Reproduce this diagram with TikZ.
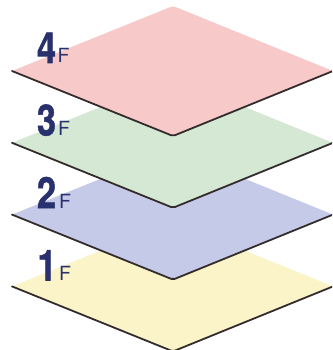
\documentclass[tikz,border=0pt]{standalone}
\usepackage{fontspec}
\setmainfont{TeX Gyre Heros}
\newfontfamily\digfont[FakeBold=1.2]{TeX Gyre Heros}
\definecolor{pinkP}{RGB}{247,201,201}
\definecolor{greenP}{RGB}{212,232,211}
\definecolor{blueP}{RGB}{196,202,232}
\definecolor{yellowP}{RGB}{250,244,200}
\definecolor{edgeC}{RGB}{52,44,44}
\definecolor{navyC}{RGB}{40,48,110}
\tikzset{
  plate/.style={rounded corners=2pt},
  rim/.style={draw=edgeC, line width=1.8pt, line cap=round, line join=round, rounded corners=2pt},
  digit/.style={inner sep=0pt, anchor=base, text=navyC},
  flabel/.style={inner sep=0pt, anchor=base west, text=navyC, font=\fontsize{19.5}{19.5}\selectfont}
}
\newcommand{\dig}[1]{\scalebox{0.8}[1]{\digfont\fontsize{43}{43}\selectfont\bfseries #1}}
\begin{document}
\begin{tikzpicture}[x=1pt,y=-1pt]
\useasboundingbox (0,0) rectangle (332,350);
\clip (0,0) rectangle (332,350);
\foreach \k/\col in {3/yellowP,2/blueP,1/greenP,0/pinkP}{
  \pgfmathsetmacro{\dy}{71.8*\k}
  \fill[plate,\col] (12,71+\dy) -- (173,6+\dy) -- (333,71+\dy) -- (173,136+\dy) -- cycle;
  \draw[rim] (12,71+\dy) -- (173,136+\dy) -- (333,71+\dy);
}
\node[digit] (d4) at (46.5,63) {\dig{4}};
\node[flabel] (f4) at (57.5,63) {F};
\node[digit] (d3) at (46.5,135.5) {\dig{3}};
\node[flabel] (f3) at (58,135.5) {F};
\node[digit] (d2) at (46.5,208) {\dig{2}};
\node[flabel] (f2) at (59,208) {F};
\node[digit] (d1) at (47,280.5) {\dig{1}};
\node[flabel] (f1) at (59,280.5) {F};
\end{tikzpicture}
\end{document}
